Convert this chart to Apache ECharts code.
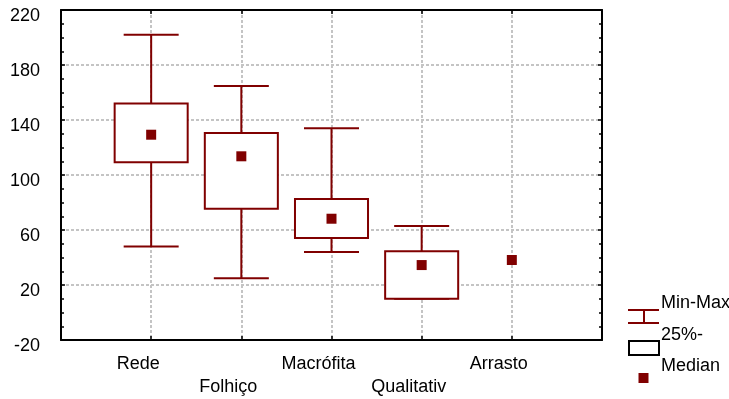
<!DOCTYPE html>
<html><head><meta charset="utf-8">
<script src="https://cdn.jsdelivr.net/npm/echarts@6/dist/echarts.min.js"></script>
<style>html,body{margin:0;padding:0;background:#fff}#c{width:729px;height:399px}</style>
</head><body><div id="c"></div>
<script>
const categories = ['Rede', 'Folhiço', 'Macrófita', 'Qualitativ', 'Arrasto'];
const minVals    = [48, 25, 44, 10, null];
const q1Vals     = [109.3, 75.5, 54.2, 10, null];
const medianVals = [129.3, 113.6, 68.2, 34.5, 38.2];
const q3Vals     = [152, 130.5, 82.5, 44.5, null];
const maxVals    = [202, 164.7, 134, 62.9, null];
const yTicks = {min: -20, max: 220, step: 40};
const legendLabels = ['Min-Max', '25%-', 'Median'];

const RED = '#800000';
const FONT = 'Liberation Sans, Arial, sans-serif';
const FS = 18;
const chart = echarts.init(document.getElementById('c'));

const data = categories.map((c, i) => [i + 1, minVals[i], q1Vals[i], medianVals[i], q3Vals[i], maxVals[i]]);

function renderItem(params, api) {
  const i = params.dataIndex;
  const x = i + 1;
  const band = api.size([1, 0])[0];
  const boxW = band * 0.81, capW = band * 0.61;
  const children = [];
  const lineStyle = {stroke: RED, lineWidth: 2};
  const cx = api.coord([x, 0])[0];
  if (minVals[i] != null) {
    const pMin = api.coord([x, minVals[i]]);
    const pQ1 = api.coord([x, q1Vals[i]]);
    const pQ3 = api.coord([x, q3Vals[i]]);
    const pMax = api.coord([x, maxVals[i]]);
    children.push({type: 'line', shape: {x1: cx, y1: pMin[1], x2: cx, y2: pQ1[1]}, style: lineStyle});
    children.push({type: 'line', shape: {x1: cx, y1: pQ3[1], x2: cx, y2: pMax[1]}, style: lineStyle});
    children.push({type: 'line', shape: {x1: cx - capW / 2, y1: pMin[1], x2: cx + capW / 2, y2: pMin[1]}, style: lineStyle});
    children.push({type: 'line', shape: {x1: cx - capW / 2, y1: pMax[1], x2: cx + capW / 2, y2: pMax[1]}, style: lineStyle});
    children.push({type: 'rect', shape: {x: cx - boxW / 2, y: pQ3[1], width: boxW, height: pQ1[1] - pQ3[1]},
      style: {fill: '#fff', stroke: RED, lineWidth: 2}});
  }
  const pMed = api.coord([x, medianVals[i]]);
  children.push({type: 'rect', shape: {x: cx - 5, y: pMed[1] - 5, width: 10, height: 10}, style: {fill: RED}});
  return {type: 'group', children};
}

const gridLine = {show: true, lineStyle: {color: '#c4c4c4', width: 2, type: [3, 2]}};
const axisLine = {show: true, onZero: false, lineStyle: {color: '#000', width: 2}};
const tick = {show: true, inside: true, length: 4, lineStyle: {color: '#000', width: 1.5}};
const minor = {show: true, splitNumber: 4, length: 3, lineStyle: {color: '#000', width: 1.5}};

chart.setOption({
  animation: false,
  grid: {left: 61, right: 127, top: 10, bottom: 57},
  xAxis: [{
    type: 'value', min: 0, max: categories.length + 1, interval: 1, position: 'bottom',
    axisLine, axisTick: tick, splitLine: gridLine,
    axisLabel: {
      margin: 13, color: '#000', fontFamily: FONT, fontSize: FS, lineHeight: 23,
      padding: [0, 26, 0, 0], showMinLabel: true, showMaxLabel: true,
      formatter: v => {
        const k = Math.round(v) - 1;
        if (k < 0 || k >= categories.length) return '';
        return k % 2 === 1 ? '\n' + categories[k] : categories[k];
      }
    }
  }, {
    type: 'value', min: 0, max: categories.length + 1, interval: 1, position: 'top',
    axisLine, axisTick: tick, axisLabel: {show: false}, splitLine: {show: false}
  }],
  yAxis: [{
    type: 'value', min: yTicks.min, max: yTicks.max, interval: yTicks.step, position: 'left',
    axisLine, axisTick: tick, minorTick: minor, splitLine: gridLine,
    axisLabel: {margin: 21, color: '#000', fontFamily: FONT, fontSize: FS, verticalAlign: 'top', lineHeight: 13}
  }, {
    type: 'value', min: yTicks.min, max: yTicks.max, interval: yTicks.step, position: 'right',
    axisLine, axisTick: tick, minorTick: minor, axisLabel: {show: false}, splitLine: {show: false}
  }],
  series: [{
    type: 'custom', xAxisIndex: 0, yAxisIndex: 0,
    renderItem, data, encode: {x: 0, y: [1, 2, 3, 4, 5]}, clip: false
  }],
  graphic: [
    {type: 'line', shape: {x1: 628, y1: 310, x2: 659, y2: 310}, style: {stroke: RED, lineWidth: 2}},
    {type: 'line', shape: {x1: 628, y1: 323, x2: 659, y2: 323}, style: {stroke: RED, lineWidth: 2}},
    {type: 'line', shape: {x1: 644, y1: 310, x2: 644, y2: 323}, style: {stroke: RED, lineWidth: 2}},
    {type: 'text', style: {x: 661, y: 303, text: legendLabels[0], fontFamily: FONT, fontSize: FS, fill: '#000', verticalAlign: 'middle'}},
    {type: 'text', style: {x: 661, y: 335, text: legendLabels[1], fontFamily: FONT, fontSize: FS, fill: '#000', verticalAlign: 'middle'}},
    {type: 'rect', shape: {x: 629, y: 341, width: 30, height: 14}, style: {fill: '#fff', stroke: '#000', lineWidth: 2}},
    {type: 'text', style: {x: 661, y: 366, text: legendLabels[2], fontFamily: FONT, fontSize: FS, fill: '#000', verticalAlign: 'middle'}},
    {type: 'rect', shape: {x: 638.5, y: 373, width: 10, height: 10}, style: {fill: RED}}
  ]
});
</script></body></html>
